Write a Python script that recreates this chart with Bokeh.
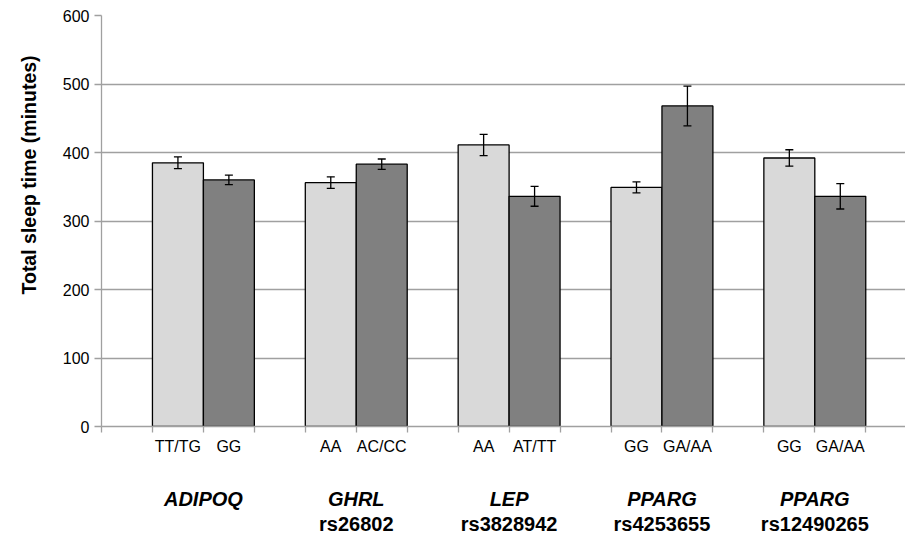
from bokeh.plotting import figure
from bokeh.models import (Range1d, FixedTicker, ColumnDataSource, Whisker, TeeHead,
                          LinearAxis, Title)
from bokeh.embed import file_html
from bokeh.resources import INLINE

# ---- data ----
genes = ["ADIPOQ", "GHRL", "LEP", "PPARG", "PPARG"]
snps = ["", "rs26802", "rs3828942", "rs4253655", "rs12490265"]
geno_a = ["TT/TG", "AA", "AA", "GG", "GG"]
geno_b = ["GG", "AC/CC", "AT/TT", "GA/AA", "GA/AA"]
mean_a = [385, 356, 411, 349, 392]
mean_b = [360, 383, 336, 468, 336]
se_a = [8.5, 8.5, 15.5, 8, 12]
se_b = [7, 7.5, 14.5, 29, 18.5]
y_ticks = [0, 100, 200, 300, 400, 500, 600]
y_title = "Total sleep time (minutes)"

FONT = "Liberation Sans"
GRID = "#a0a0a0"

n = len(genes)
xa = [3 * i + 1.5 for i in range(n)]
xb = [3 * i + 2.5 for i in range(n)]
xg = [3 * i + 2 for i in range(n)]
bounds = list(range(16))

src_a = ColumnDataSource(dict(x=xa, top=mean_a, upper=[m + s for m, s in zip(mean_a, se_a)],
                              lower=[m - s for m, s in zip(mean_a, se_a)]))
src_b = ColumnDataSource(dict(x=xb, top=mean_b, upper=[m + s for m, s in zip(mean_b, se_b)],
                              lower=[m - s for m, s in zip(mean_b, se_b)]))

p = figure(width=905, height=537, output_backend="svg", toolbar_location=None,
           x_range=Range1d(0, 15.78), y_range=Range1d(0, 600),
           min_border_left=100, min_border_right=0, min_border_top=15, min_border_bottom=109)
p.outline_line_color = None
p.background_fill_color = "white"
p.border_fill_color = "white"

# grid
p.xgrid.grid_line_color = None
p.ygrid.ticker = FixedTicker(ticks=y_ticks)
p.ygrid.grid_line_color = GRID
p.ygrid.grid_line_width = 1.3

# y axis
p.yaxis.ticker = FixedTicker(ticks=y_ticks)
p.yaxis.axis_line_color = GRID
p.yaxis.axis_line_width = 1.3
p.yaxis.major_tick_line_color = GRID
p.yaxis.major_tick_line_width = 1.3
p.yaxis.major_tick_out = 7
p.yaxis.major_tick_in = 0
p.yaxis.minor_tick_line_color = None
p.yaxis.major_label_text_font = FONT
p.yaxis.major_label_text_font_size = "16px"
p.yaxis.major_label_text_color = "black"
p.yaxis.major_label_standoff = 5

# x axis: boundary ticks as minor ticks, genotype labels at bar centres
xax = p.xaxis[0]
xax.ticker = FixedTicker(ticks=xa + xb, minor_ticks=bounds)
xax.major_label_overrides = {**{x: l for x, l in zip(xa, geno_a)},
                             **{x: l for x, l in zip(xb, geno_b)}}
xax.axis_line_color = GRID
xax.axis_line_width = 1.3
xax.major_tick_line_color = None
xax.major_tick_out = 0
xax.major_tick_in = 0
xax.minor_tick_line_color = GRID
xax.minor_tick_line_width = 1.3
xax.minor_tick_out = 6
xax.minor_tick_in = 0
xax.major_label_text_font = FONT
xax.major_label_text_font_size = "16px"
xax.major_label_text_color = "black"
xax.major_label_standoff = 5

# gene name axis
gax = LinearAxis(ticker=FixedTicker(ticks=xg, minor_ticks=[]),
                 major_label_overrides={x: g for x, g in zip(xg, genes)},
                 axis_line_color=None, major_tick_line_color=None, minor_tick_line_color=None,
                 major_tick_out=0, major_tick_in=0,
                 major_label_text_font=FONT, major_label_text_font_size="20px",
                 major_label_text_font_style="bold italic", major_label_text_color="black",
                 major_label_standoff=30)
p.add_layout(gax, "below")

# SNP axis
sax = LinearAxis(ticker=FixedTicker(ticks=xg, minor_ticks=[]),
                 major_label_overrides={x: s for x, s in zip(xg, snps)},
                 axis_line_color=None, major_tick_line_color=None, minor_tick_line_color=None,
                 major_tick_out=0, major_tick_in=0,
                 major_label_text_font=FONT, major_label_text_font_size="20px",
                 major_label_text_font_style="bold", major_label_text_color="black",
                 major_label_standoff=0)
p.add_layout(sax, "below")

# bars
p.vbar(x="x", top="top", bottom=0, width=1, source=src_a, fill_color="#d9d9d9",
       line_color="black", line_width=1.3)
p.vbar(x="x", top="top", bottom=0, width=1, source=src_b, fill_color="#808080",
       line_color="black", line_width=1.3)

for s in (src_a, src_b):
    w = Whisker(base="x", upper="upper", lower="lower", source=s, line_color="black",
                line_width=1.3, level="overlay",
                upper_head=TeeHead(size=8, line_color="black", line_width=1.3),
                lower_head=TeeHead(size=8, line_color="black", line_width=1.3))
    p.add_layout(w)

# y axis title (non-breaking spaces shift the visible text upward, as in the original)
p.add_layout(Title(text="\u00a0" * 17 + y_title, align="center", vertical_align="top",
                   standoff=35, text_font=FONT, text_font_size="19.5px",
                   text_font_style="bold", text_color="black"), "left")

open("out.html", "w").write(file_html(p, INLINE))
